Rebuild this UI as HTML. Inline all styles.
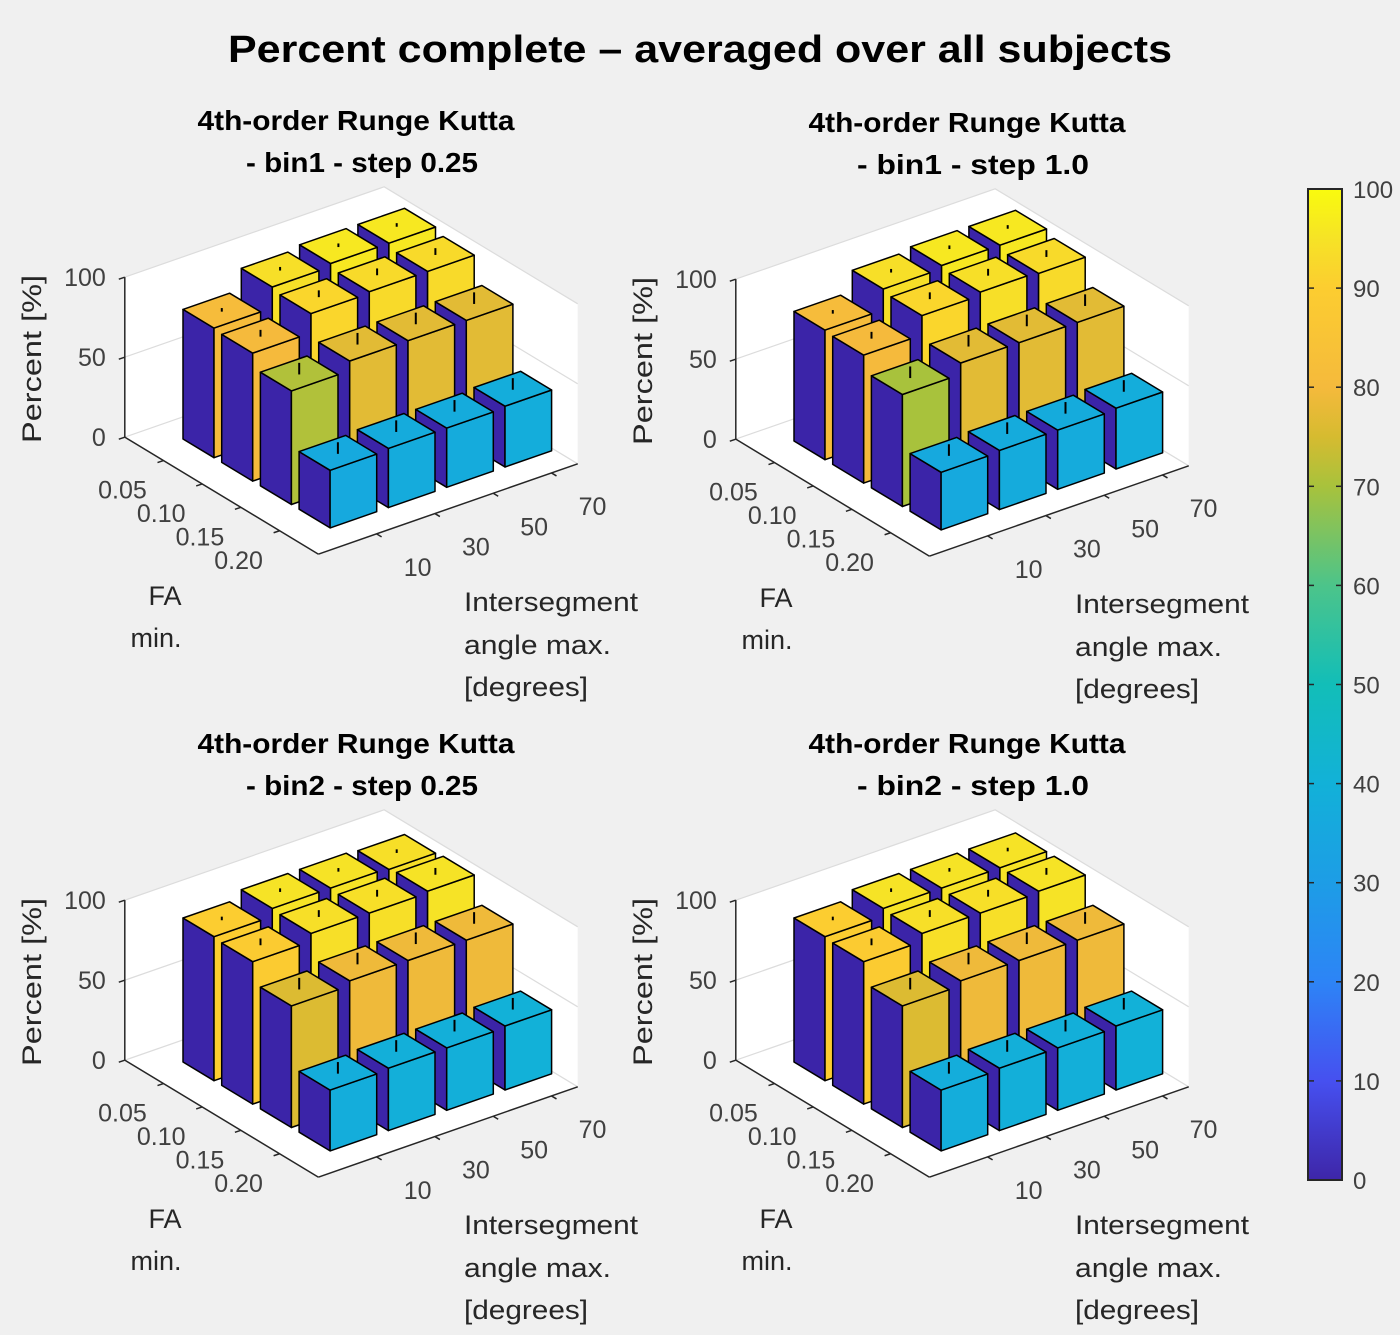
<!DOCTYPE html>
<html><head><meta charset="utf-8"><style>
html,body{margin:0;padding:0;background:#f0f0f0;}
svg{display:block;font-family:"Liberation Sans",Arial,sans-serif;}
</style></head><body>
<svg id="fig" width="1400" height="1335" viewBox="0 0 1400 1335" xmlns="http://www.w3.org/2000/svg">
<rect x="0" y="0" width="1400" height="1335" fill="#f0f0f0"/>
<text x="700" y="62" text-anchor="middle" font-size="38" font-weight="bold" fill="#000" textLength="944" lengthAdjust="spacingAndGlyphs">Percent complete – averaged over all subjects</text>
<g id="plots"></g>
<defs>
<linearGradient id="parula" x1="0" y1="1" x2="0" y2="0">
<stop offset="0" stop-color="#3e26a8"/><stop offset="0.1" stop-color="#4650f0"/>
<stop offset="0.2" stop-color="#2d84f6"/><stop offset="0.3" stop-color="#1d9de6"/>
<stop offset="0.4" stop-color="#12b1d8"/><stop offset="0.5" stop-color="#12beb8"/>
<stop offset="0.6" stop-color="#4cc48a"/><stop offset="0.7" stop-color="#a8c23c"/>
<stop offset="0.75" stop-color="#d6bb30"/><stop offset="0.8" stop-color="#f5ba3c"/>
<stop offset="0.9" stop-color="#fccd30"/><stop offset="0.95" stop-color="#f6e326"/>
<stop offset="1" stop-color="#f9fb0e"/>
</linearGradient>
</defs>
<g id="colorbar">
<rect x="1308" y="189" width="34" height="991" fill="url(#parula)" stroke="#262626" stroke-width="2"/>
</g>
</svg>
<script>
// ---- data ----
const faLabels = ["0.05","0.10","0.15","0.20"];
const angleLabels = ["10","30","50","70"];
const zTicks = [0,50,100];
const cbTicks = [0,10,20,30,40,50,60,70,80,90,100];
const valsBin1Step025 = [[81,94,96,96],[80,92,93,93],[71,77,77,77],[36,37,37,38]];
const valsBin1Step10  = [[81,94,96,96],[80,92,94,93],[70,77,77,77],[36,37,37,38]];
const valsBin2Step025 = [[90,95,95,94],[89,94,94,95],[76,79,79,79],[38,39,39,40]];
const valsBin2Step10  = [[90,95,95,95],[89,94,94,95],[76,79,79,79],[38,39,39,40]];
const errBars = [[1,1,1,1],[3,3,3,3],[6,6,6,6],[6,6,6,6]];
const subTitles = ["- bin1 - step 0.25","- bin1 - step 1.0","- bin2 - step 0.25","- bin2 - step 1.0"];
const subVals = [valsBin1Step025, valsBin1Step10, valsBin2Step025, valsBin2Step10];

const NS = "http://www.w3.org/2000/svg";
const offsets = [[0,0],[611,2],[0,623],[611,623]];
const stops = [[0,"#3e26a8"],[0.1,"#4650f0"],[0.2,"#2d84f6"],[0.3,"#1d9de6"],[0.4,"#12b1d8"],[0.5,"#12beb8"],[0.6,"#4cc48a"],[0.7,"#a8c23c"],[0.75,"#d6bb30"],[0.8,"#f5ba3c"],[0.9,"#fccd30"],[0.95,"#f6e326"],[1,"#f9fb0e"]];
function hex(h){return [1,3,5].map(i=>parseInt(h.substr(i,2),16));}
function parula(t){
  t=Math.max(0,Math.min(1,t));
  for(let i=1;i<stops.length;i++){
    if(t<=stops[i][0]){
      const a=hex(stops[i-1][1]),b=hex(stops[i][1]);
      const f=(t-stops[i-1][0])/(stops[i][0]-stops[i-1][0]);
      return "rgb("+a.map((v,k)=>Math.round(v+(b[k]-v)*f)).join(",")+")";
    }
  }
  return stops[stops.length-1][1];
}
function mk(tag,attrs,parent){
  const e=document.createElementNS(NS,tag);
  for(const k in attrs) e.setAttribute(k,attrs[k]);
  parent.appendChild(e); return e;
}
const plots=document.getElementById("plots");
const cMin=-0.5,cMax=3.95,rMin=-0.5,rMax=4.5;

subVals.forEach((vals,si)=>{
  const [dx,dy]=offsets[si];
  const P=(c,r,z)=>[dx+173.3+c*58.3+r*38.7, dy+438.7-c*20.3+r*23.4-z*1.6];
  const pts=a=>a.map(p=>p[0].toFixed(1)+","+p[1].toFixed(1)).join(" ");
  const g=mk("g",{},plots);
  
  
  // axes panes
  const L0=P(cMin,rMin,0),L1=P(cMin,rMin,100),B1=P(cMax,rMin,100),R1=P(cMax,rMax,100),R0=P(cMax,rMax,0),F0=P(cMin,rMax,0);
  const pane=mk("polygon",{points:pts([L0,L1,B1,R1,R0,F0]),fill:"#ffffff",stroke:"none"},g);
  
  
  zTicks.forEach(z=>{
    const gl=mk("polyline",{points:pts([P(cMin,rMin,z),P(cMax,rMin,z),P(cMax,rMax,z)]),fill:"none",stroke:"#dcdcdc","stroke-width":1.2},g);
    
    
  });
  // z axis
  const za=mk("line",{x1:L0[0],y1:L0[1],x2:L1[0],y2:L1[1],stroke:"#262626","stroke-width":1.5},g);
  
  
  zTicks.forEach(z=>{
    const p=P(cMin,rMin,z);
    mk("line",{x1:p[0],y1:p[1],x2:p[0]-6,y2:p[1]+2,stroke:"#262626","stroke-width":1.5},g);
    const t=mk("text",{x:p[0]-19,y:p[1]+9,"text-anchor":"end","font-size":25,fill:"#404040"},g);
    t.textContent=String(z);
    
    
  });
  // floor axes
  const fa=mk("line",{x1:L0[0],y1:L0[1],x2:F0[0],y2:F0[1],stroke:"#262626","stroke-width":1.5},g);
  
  
  const aa=mk("line",{x1:F0[0],y1:F0[1],x2:R0[0],y2:R0[1],stroke:"#262626","stroke-width":1.5},g);
  
  
  faLabels.forEach((lab,r)=>{
    const p=P(cMin,r+0.5,0);
    mk("line",{x1:p[0],y1:p[1],x2:p[0]-6,y2:p[1]+2,stroke:"#262626","stroke-width":1.5},g);
    const t=mk("text",{x:p[0]-41,y:p[1]+38,"text-anchor":"middle","font-size":25,fill:"#404040"},g);
    t.textContent=lab;
    
    
  });
  angleLabels.forEach((lab,c)=>{
    const p=P(c+0.5,rMax,0);
    mk("line",{x1:p[0],y1:p[1],x2:p[0]+5,y2:p[1]+3,stroke:"#262626","stroke-width":1.5},g);
    const t=mk("text",{x:p[0]+41,y:p[1]+42,"text-anchor":"middle","font-size":25,fill:"#404040"},g);
    t.textContent=lab;
    
    
  });
  // bars: back to front
  for(let r=0;r<4;r++){
    for(let c=3;c>=0;c--){
      const v=vals[r][c];
      const col=parula(v/100);
      const c0=c+0.1,c1=c+0.9,r0=r+0.1,r1=r+0.9;
      const bg=mk("g",{stroke:"#000","stroke-width":1.5,"stroke-linejoin":"round"},g);
      
      
      mk("polygon",{points:pts([P(c0,r0,0),P(c0,r1,0),P(c0,r1,v),P(c0,r0,v)]),fill:"#3b24a8"},bg);
      mk("polygon",{points:pts([P(c0,r1,0),P(c1,r1,0),P(c1,r1,v),P(c0,r1,v)]),fill:col},bg);
      mk("polygon",{points:pts([P(c0,r0,v),P(c1,r0,v),P(c1,r1,v),P(c0,r1,v)]),fill:col},bg);
      const m=P(c+0.5,r+0.5,v),e=P(c+0.5,r+0.5,v+errBars[r][c]);
      const eb=mk("line",{x1:m[0],y1:m[1]+1,x2:e[0],y2:e[1]-1,stroke:"#000","stroke-width":2},g);
      
      
    }
  }
  // titles & labels
  const t1=mk("text",{x:dx+356,y:dy+130,"text-anchor":"middle","font-size":28,"font-weight":"bold",fill:"#000",textLength:317,lengthAdjust:"spacingAndGlyphs"},g);
  t1.textContent="4th-order Runge Kutta";
  
  
  const t2=mk("text",{x:dx+362,y:dy+172,"text-anchor":"middle","font-size":28,"font-weight":"bold",fill:"#000",textLength:232,lengthAdjust:"spacingAndGlyphs"},g);
  t2.textContent=subTitles[si];
  
  
  const yl=mk("text",{x:0,y:0,"text-anchor":"middle","font-size":27,fill:"#262626",transform:"translate("+(dx+41)+","+(dy+359)+") rotate(-90)",textLength:168,lengthAdjust:"spacingAndGlyphs"},g);
  yl.textContent="Percent [%]";
  
  
  [["FA",dx+165,dy+605,"middle"],["min.",dx+156,dy+647,"middle"]].forEach(([s,x,y,a])=>{
    const t=mk("text",{x:x,y:y,"text-anchor":a,"font-size":27,fill:"#262626"},g);
    t.textContent=s;
    
    
  });
  [["Intersegment",dy+611,174],["angle max.",dy+654,147],["[degrees]",dy+696,124]].forEach(([s,y,w])=>{
    const t=mk("text",{x:dx+464,y:y,"font-size":27,fill:"#262626",textLength:w,lengthAdjust:"spacingAndGlyphs"},g);
    t.textContent=s;
    
    
  });
});
// colorbar ticks
const cb=document.getElementById("colorbar");
cbTicks.forEach(v=>{
  const y=1180-v*9.91;
  if(v>0&&v<100){
    mk("line",{x1:1342,y1:y,x2:1336,y2:y,stroke:"#262626","stroke-width":1.5},cb);
    mk("line",{x1:1308,y1:y,x2:1314,y2:y,stroke:"#262626","stroke-width":1.5},cb);
  }
  const t=mk("text",{x:1353,y:y+9,"font-size":24,fill:"#404040"},cb);
  t.textContent=String(v);
  
  
});
</script>
</body></html>
